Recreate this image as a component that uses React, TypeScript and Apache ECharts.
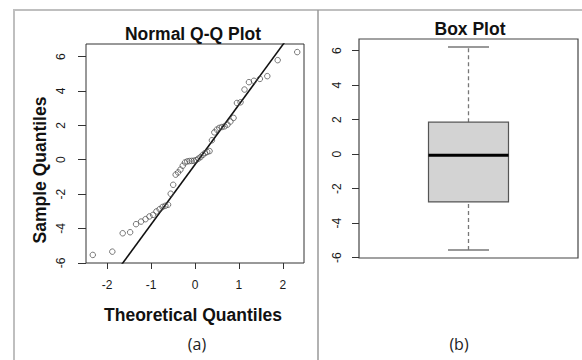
import React, { useEffect, useRef } from "react";
import * as echarts from "echarts";

// Normal Q-Q plot: theoretical quantiles (n = 50) and sample quantiles
const theoretical = [
  -2.326, -1.881, -1.645, -1.476, -1.341, -1.227, -1.126, -1.036, -0.954, -0.878,
  -0.806, -0.739, -0.674, -0.613, -0.553, -0.496, -0.44, -0.385, -0.332, -0.279,
  -0.228, -0.176, -0.126, -0.075, -0.025, 0.025, 0.075, 0.126, 0.176, 0.228,
  0.279, 0.332, 0.385, 0.44, 0.496, 0.553, 0.613, 0.674, 0.739, 0.806,
  0.878, 0.954, 1.036, 1.126, 1.227, 1.341, 1.476, 1.645, 1.881, 2.326,
];
const sample = [
  -5.54, -5.35, -4.28, -4.22, -3.75, -3.6, -3.46, -3.3, -3.21, -3.01,
  -2.88, -2.75, -2.68, -2.62, -1.98, -1.46, -0.87, -0.74, -0.58, -0.35,
  -0.16, -0.1, -0.08, -0.07, -0.06, -0.03, 0.06, 0.15, 0.28, 0.38,
  0.45, 0.5, 1.13, 1.59, 1.75, 1.85, 1.9, 1.94, 2.04, 2.22,
  2.43, 3.3, 3.34, 4.08, 4.51, 4.59, 4.7, 4.86, 5.79, 6.26,
];
// Reference line (qqline) end points, clipped by the plot box
const qqLineX = [-2.6, 2.6];
const qqLineY = [-9.35, 8.79];

// Box plot statistics: [lower whisker, Q1, median, Q3, upper whisker]
const boxStats = [-5.55, -2.77, -0.06, 1.85, 6.2];

// Tick values
const qqXTicks = [-2, -1, 0, 1, 2];
const yTicks = [-6, -4, -2, 0, 2, 4, 6];

const FONT = "'Liberation Sans', Arial, sans-serif";

export default function App() {
  const ref = useRef<HTMLDivElement>(null);

  useEffect(() => {
    if (!ref.current) return;
    const chart = echarts.init(ref.current, undefined, { renderer: "svg" });

    const tickLabel = { fontFamily: FONT, fontSize: 12, color: "#1a1a1a" };

    const option: any = {
      animation: false,
      backgroundColor: "#fff",
      grid: [
        { left: 86, top: 44, width: 218, height: 219, show: true, borderColor: "#333", borderWidth: 1, backgroundColor: "transparent" },
        { left: 359, top: 39, width: 219, height: 219, show: true, borderColor: "#444", borderWidth: 1.2, backgroundColor: "transparent" },
      ],
      xAxis: [
        {
          gridIndex: 0,
          type: "value",
          min: -2.48,
          max: 2.48,
          axisLine: { show: false, onZero: false },
          splitLine: { show: false },
          axisTick: { show: true, length: 6, customValues: qqXTicks, lineStyle: { color: "#333" } },
          axisLabel: { ...tickLabel, margin: 16, customValues: qqXTicks },
        },
        {
          gridIndex: 1,
          type: "value",
          min: 0.5,
          max: 1.5,
          show: false,
        },
      ],
      yAxis: [
        {
          gridIndex: 0,
          type: "value",
          min: -6.01,
          max: 6.73,
          axisLine: { show: false, onZero: false },
          splitLine: { show: false },
          axisTick: { show: true, length: 8, customValues: yTicks, lineStyle: { color: "#333" } },
          axisLabel: { ...tickLabel, rotate: 90, margin: 19, customValues: yTicks },
        },
        {
          gridIndex: 1,
          type: "value",
          min: -6.02,
          max: 6.67,
          axisLine: { show: false, onZero: false },
          splitLine: { show: false },
          axisTick: { show: true, length: 7, customValues: yTicks, lineStyle: { color: "#333" } },
          axisLabel: { ...tickLabel, rotate: 90, margin: 16, customValues: yTicks },
        },
      ],
      series: [
        {
          type: "line",
          xAxisIndex: 0,
          yAxisIndex: 0,
          data: qqLineX.map((x, i) => [x, qqLineY[i]]),
          symbol: "none",
          clip: true,
          lineStyle: { color: "#111", width: 1.6 },
          z: 2,
        },
        {
          type: "scatter",
          xAxisIndex: 0,
          yAxisIndex: 0,
          data: theoretical.map((x, i) => [x, sample[i]]),
          symbol: "circle",
          symbolSize: 5.5,
          itemStyle: { color: "transparent", borderColor: "#444", borderWidth: 0.9 },
          z: 3,
        },
        {
          type: "custom",
          xAxisIndex: 1,
          yAxisIndex: 1,
          data: [[1, ...boxStats]],
          renderItem: (params: any, api: any) => {
            const x = api.value(0);
            const pMin = api.coord([x, api.value(1)]);
            const pQ1 = api.coord([x, api.value(2)]);
            const pMed = api.coord([x, api.value(3)]);
            const pQ3 = api.coord([x, api.value(4)]);
            const pMax = api.coord([x, api.value(5)]);
            const cx = pMed[0];
            const half = 40;
            const cap = 20.5;
            const whisker = { stroke: "#777", lineWidth: 1.3, lineDash: [4, 3] };
            const capStyle = { stroke: "#777", lineWidth: 1.5 };
            return {
              type: "group",
              children: [
                { type: "line", shape: { x1: cx, y1: pQ3[1], x2: cx, y2: pMax[1] }, style: whisker },
                { type: "line", shape: { x1: cx, y1: pMin[1], x2: cx, y2: pQ1[1] }, style: whisker },
                { type: "line", shape: { x1: cx - cap, y1: pMax[1], x2: cx + cap, y2: pMax[1] }, style: capStyle },
                { type: "line", shape: { x1: cx - cap, y1: pMin[1], x2: cx + cap, y2: pMin[1] }, style: capStyle },
                {
                  type: "rect",
                  shape: { x: cx - half, y: pQ3[1], width: 2 * half, height: pQ1[1] - pQ3[1] },
                  style: { fill: "#D3D3D3", stroke: "#555", lineWidth: 1.2 },
                },
                { type: "line", shape: { x1: cx - half, y1: pMed[1], x2: cx + half, y2: pMed[1] }, style: { stroke: "#000", lineWidth: 3 } },
              ],
            };
          },
        },
      ],
      graphic: [
        // panel frame
        { type: "line", shape: { x1: 13, y1: 10, x2: 582, y2: 10 }, style: { stroke: "#BFBFBF", lineWidth: 2 } },
        { type: "line", shape: { x1: 14, y1: 9, x2: 14, y2: 360 }, style: { stroke: "#BFBFBF", lineWidth: 2 } },
        { type: "line", shape: { x1: 318, y1: 10, x2: 318, y2: 360 }, style: { stroke: "#999", lineWidth: 1.5 } },
        // titles and labels
        { type: "text", x: 193, y: 34, style: { text: "Normal Q-Q Plot", font: `bold 17.5px ${FONT}`, fill: "#111", align: "center", verticalAlign: "middle" } },
        { type: "text", x: 470, y: 29, style: { text: "Box Plot", font: `bold 17.5px ${FONT}`, fill: "#111", align: "center", verticalAlign: "middle" } },
        { type: "text", x: 193, y: 315, style: { text: "Theoretical Quantiles", font: `bold 17.5px ${FONT}`, fill: "#111", align: "center", verticalAlign: "middle" } },
        { type: "text", x: 40, y: 170, rotation: Math.PI / 2, style: { text: "Sample Quantiles", font: `bold 17.5px ${FONT}`, fill: "#111", align: "center", verticalAlign: "middle" } },
        { type: "text", x: 197, y: 344, style: { text: "(a)", font: `16px 'Open Sans', sans-serif`, fill: "#222", align: "center", verticalAlign: "middle" } },
        { type: "text", x: 459, y: 344, style: { text: "(b)", font: `16px 'Open Sans', sans-serif`, fill: "#222", align: "center", verticalAlign: "middle" } },
      ],
    };

    chart.setOption(option);
    return () => chart.dispose();
  }, []);

  return (
    <div
      ref={ref}
      style={{ position: "fixed", left: 0, top: 0, width: 582, height: 360 }}
    />
  );
}
